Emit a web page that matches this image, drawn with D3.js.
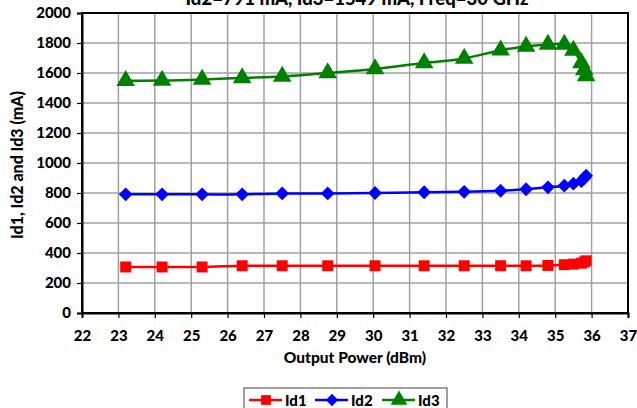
<!DOCTYPE html>
<html><head><meta charset="utf-8">
<script src="https://cdn.jsdelivr.net/npm/d3@7"></script>
<style>body{margin:0;background:#fff;}svg{display:block;font-family:Lato,"Open Sans",sans-serif;font-weight:900;}</style>
</head><body><svg width="637" height="408"></svg>
<script>
const outputPower = [23.2, 24.2, 25.3, 26.4, 27.5, 28.75, 30.05, 31.4, 32.5, 33.5, 34.2, 34.8, 35.25, 35.5, 35.72, 35.8, 35.85];
const id1 = [307, 307, 307, 315, 315, 315, 315, 315, 315, 315, 315, 317, 322, 326, 332, 340, 348];
const id2 = [791, 791, 791, 791, 797, 797, 800, 805, 808, 815, 825, 838, 849, 862, 880, 900, 915];
const id3 = [1549, 1550, 1557, 1567, 1577, 1600, 1627, 1667, 1697, 1752, 1777, 1790, 1790, 1750, 1667, 1620, 1580];
const xTicks = d3.range(22, 38, 1);
const yTicks = d3.range(0, 2001, 200);
const seriesNames = ["Id1", "Id2", "Id3"];
const seriesColors = ["#ff0000", "#0000ff", "#008000"];
const seriesSymbols = [d3.symbolSquare, d3.symbolSquare, d3.symbolTriangle];
const title = "Id2=791 mA, Id3=1549 mA, Freq=30 GHz";

const svg = d3.select("svg");
const L = 82, R = 628, T = 13, B = 313;
const x = d3.scaleLinear().domain([22, 37]).range([L, R]);
const y = d3.scaleLinear().domain([0, 2000]).range([B, T]);

// title (clipped at top, as in the reference)
svg.append("text").attr("x", 357).attr("y", 5).attr("text-anchor", "middle")
  .attr("font-size", 18.5).text(title);

// grid
const grid = svg.append("g").attr("stroke", "#a0a0a0").attr("stroke-width", 1.5);
xTicks.slice(1, -1).forEach(t => grid.append("line").attr("x1", x(t)).attr("x2", x(t)).attr("y1", T).attr("y2", B));
yTicks.slice(1, -1).forEach(t => grid.append("line").attr("x1", L).attr("x2", R).attr("y1", y(t)).attr("y2", y(t)));

// frame
svg.append("rect").attr("x", L).attr("y", T).attr("width", R - L).attr("height", B - T)
  .attr("fill", "none").attr("stroke", "#000").attr("stroke-width", 2);

// axes
const xAxis = svg.append("g").attr("transform", `translate(0,${B})`)
  .call(d3.axisBottom(x).tickValues(xTicks).tickFormat(d3.format("d")).tickSize(5).tickPadding(12));
const yAxis = svg.append("g").attr("transform", `translate(${L},0)`)
  .call(d3.axisLeft(y).tickValues(yTicks).tickFormat(d3.format("d")).tickSize(5).tickPadding(6));
[xAxis, yAxis].forEach(a => {
  a.select(".domain").attr("stroke", "#000").attr("stroke-width", 2);
  a.selectAll(".tick line").attr("stroke", "#000").attr("stroke-width", 1.2);
  a.selectAll("text").attr("font-size", 15).attr("font-weight", 900).attr("fill", "#000")
    .attr("font-family", "Lato,'Open Sans',sans-serif");
});

svg.append("text").attr("x", 355).attr("y", 363).attr("text-anchor", "middle").attr("font-size", 15.5).text("Output Power (dBm)");
svg.append("text").attr("transform", "translate(23,165) rotate(-90)").attr("text-anchor", "middle").attr("font-size", 16).text("Id1, Id2 and Id3 (mA)");

// series
const seriesValues = [id1, id2, id3];
const seriesRot = [0, 45, 0];
const line = d3.line().x(d => x(d[0])).y(d => y(d[1])).curve(d3.curveCatmullRom.alpha(0.5));
const symSizes = [120, 95, 150];
seriesValues.forEach((vals, i) => {
  const pts = outputPower.map((p, k) => [p, vals[k]]);
  svg.append("path").datum(pts).attr("d", line).attr("fill", "none")
    .attr("stroke", seriesColors[i]).attr("stroke-width", 2.5);
  svg.append("g").selectAll("path").data(pts).join("path")
    .attr("transform", d => `translate(${x(d[0])},${y(d[1])}) rotate(${seriesRot[i]})`)
    .attr("d", d3.symbol().type(seriesSymbols[i]).size(symSizes[i]))
    .attr("fill", seriesColors[i]);
});

// legend
const lg = svg.append("g");
lg.append("rect").attr("x", 244).attr("y", 388).attr("width", 203).attr("height", 24)
  .attr("fill", "#fff").attr("stroke", "#404040").attr("stroke-width", 1);
const lx = [249, 315, 382];
seriesNames.forEach((n, i) => {
  const g = lg.append("g").attr("transform", `translate(${lx[i]},400)`);
  g.append("line").attr("x1", 0).attr("x2", 33).attr("stroke", seriesColors[i]).attr("stroke-width", 2.5);
  g.append("path").attr("transform", `translate(17,0) rotate(${seriesRot[i]})`).attr("d", d3.symbol().type(seriesSymbols[i]).size(symSizes[i] * 0.8)).attr("fill", seriesColors[i]);
  g.append("text").attr("x", 36).attr("y", 5.5).attr("font-size", 15).text(n);
});
</script></body></html>
